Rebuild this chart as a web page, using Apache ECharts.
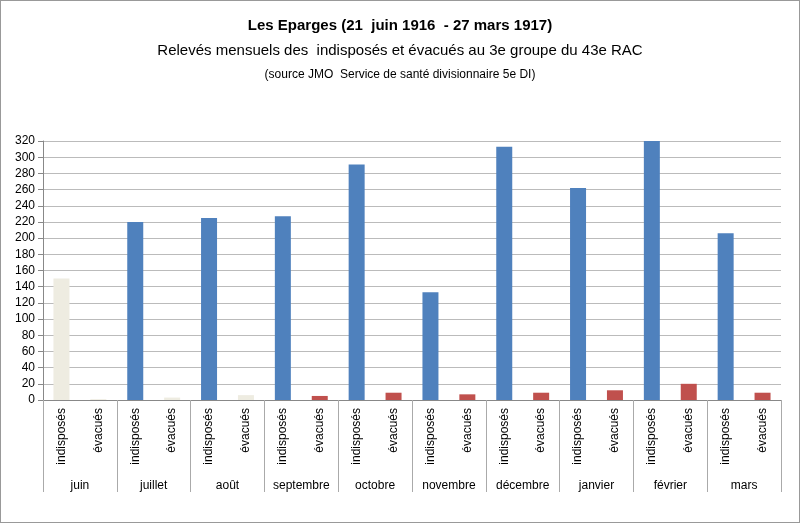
<!DOCTYPE html><html><head><meta charset="utf-8"><script src="https://cdn.jsdelivr.net/npm/echarts@6/dist/echarts.min.js"></script>
<style>body{margin:0}#c{width:798px;height:521px;border:1px solid #999}</style></head><body><div id="c"></div><script>
const months=['juin','juillet','août','septembre','octobre','novembre','décembre','janvier','février','mars'];
const subCats=['indisposés','évacués'];
const indisposes=[150,220,225,227,291,133,313,262,320,206];
const evacues=[1,3,6,5,9,7,9,12,20,9];
const yTicks=[0,20,40,60,80,100,120,140,160,180,200,220,240,260,280,300,320];
const beige='#eeece1',blue='#4f81bd',red='#c0504d';
const cats=[],vals=[];
months.forEach((m,i)=>{cats.push(subCats[0]+'|'+i,subCats[1]+'|'+i);
 vals.push({value:indisposes[i],itemStyle:{color:i===0?beige:blue}});
 vals.push({value:evacues[i],itemStyle:{color:i<3?beige:red}});});
const ch=echarts.init(document.getElementById('c'));
ch.setOption({animation:false,
title:[{text:'Les Eparges (21  juin 1916  - 27 mars 1917)',left:'center',top:12,textStyle:{fontFamily:'Liberation Sans',fontSize:15,fontWeight:'bold',color:'#000'}},
{text:'Relevés mensuels des  indisposés et évacués au 3e groupe du 43e RAC',left:'center',top:37,textStyle:{fontFamily:'Liberation Sans',fontSize:15,fontWeight:'normal',color:'#000'}},
{text:'(source JMO  Service de santé divisionnaire 5e DI)',left:'center',top:63,textStyle:{fontFamily:'Liberation Sans',fontSize:12,fontWeight:'normal',color:'#000'}}],
grid:{left:42,right:18,top:140,bottom:122},
xAxis:[{type:'category',data:cats,axisLine:{lineStyle:{color:'#888'}},
 axisTick:{show:true,interval:(i)=>i%2===0,length:92,lineStyle:{color:'#aaa'}},
 axisLabel:{interval:0,rotate:90,fontFamily:'Liberation Sans',fontSize:12,color:'#000',formatter:v=>v.split('|')[0]}},
{type:'category',position:'bottom',data:months,offset:72,axisLine:{show:false},axisTick:{show:false},
 axisLabel:{interval:0,fontFamily:'Liberation Sans',fontSize:12,color:'#000'}}],
yAxis:{type:'value',min:0,max:320,interval:20,axisLine:{show:true,lineStyle:{color:'#888'}},axisTick:{show:true,lineStyle:{color:'#888'}},
 splitLine:{lineStyle:{color:'#bbb'}},axisLabel:{fontFamily:'Liberation Sans',fontSize:12,color:'#000',formatter:v=>yTicks.includes(v)?String(v):''}},
series:[{type:'bar',data:vals,barWidth:16,xAxisIndex:0}]});
</script></body></html>
